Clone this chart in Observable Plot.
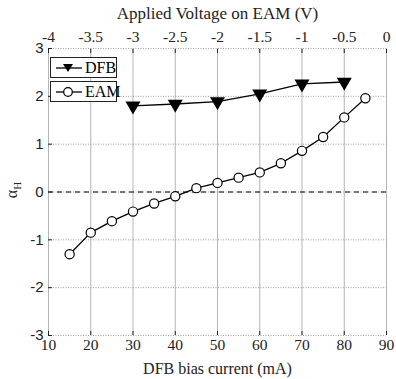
<!DOCTYPE html>
<html><head><meta charset="utf-8">
<script src="https://cdn.jsdelivr.net/npm/d3@7"></script>
<script src="https://cdn.jsdelivr.net/npm/@observablehq/plot@0.6"></script>
<style>
body{margin:0;background:#fff;}
#wrap{position:relative;width:396px;height:379px;font-family:"Liberation Serif",serif;}
#wrap svg text{font-family:"Liberation Serif",serif;}
#wrap svg g[aria-label="x-axis tick label"]{font-size:15.5px !important;}
#wrap svg g[aria-label="y-axis tick label"]{font-size:15px !important;}
#wrap svg g[aria-label="y-axis tick label"] text{font-family:"Liberation Sans",sans-serif !important;}
.leg{position:absolute;left:50px;width:67px;height:21px;border:1px solid #222;background:#fff;box-sizing:border-box;font-size:16px;}
.leg svg{position:absolute;left:0;top:0;}
.leg span{position:absolute;left:34px;top:1px;}
</style></head>
<body><div id="wrap"></div>
<script>
const dfbCurrent = [30, 40, 50, 60, 70, 80];
const dfbAlpha = [1.80, 1.84, 1.89, 2.05, 2.26, 2.30];
const eamCurrent = [15, 20, 25, 30, 35, 40, 45, 50, 55, 60, 65, 70, 75, 80, 85];
const eamAlpha = [-1.30, -0.85, -0.61, -0.41, -0.24, -0.09, 0.08, 0.19, 0.30, 0.41, 0.60, 0.86, 1.15, 1.56, 1.96];
const xTicks = [10, 20, 30, 40, 50, 60, 70, 80, 90];
const topTickLabels = ["-4", "-3.5", "-3", "-2.5", "-2", "-1.5", "-1", "-0.5", "0"];
const yTicks = [-3, -2, -1, 0, 1, 2, 3];

const dfb = dfbCurrent.map((x, i) => ({x, y: dfbAlpha[i]}));
const eam = eamCurrent.map((x, i) => ({x, y: eamAlpha[i]}));
const fmt = d => String(d).replace("\u2212", "-");

const chart = Plot.plot({
  width: 396, height: 379,
  marginLeft: 48, marginRight: 10, marginTop: 48, marginBottom: 44,
  style: {fontFamily: "Liberation Serif, serif", fontSize: "15px", color: "#222", background: "#fff"},
  x: {domain: [10, 90]},
  y: {domain: [-3, 3]},
  marks: [
    Plot.gridX(xTicks, {stroke: "#b5b5b5", strokeOpacity: 1, strokeWidth: 1}),
    Plot.gridY(yTicks, {stroke: "#888", strokeOpacity: 1, strokeDasharray: "1,1.5", strokeWidth: 0.8}),
    Plot.ruleY([0], {stroke: "#000", strokeDasharray: "5,4", strokeWidth: 1.2}),
    Plot.axisX(xTicks, {anchor: "bottom", tickSize: 0, tickPadding: 3, tickFormat: fmt, label: "DFB bias current (mA)", labelAnchor: "center", labelOffset: 38, labelArrow: "none"}),
    Plot.axisX(xTicks, {anchor: "bottom", tickSize: -4, text: null, stroke: "#222", label: null}),
    Plot.axisX(xTicks, {anchor: "top", tickSize: 0, tickPadding: 7, tickFormat: (d, i) => topTickLabels[i], label: "Applied Voltage on EAM (V)", labelAnchor: "center", labelOffset: 42, labelArrow: "none"}),
    Plot.axisX(xTicks, {anchor: "top", tickSize: -4, text: null, stroke: "#222", label: null}),
    Plot.axisY(yTicks, {anchor: "left", tickSize: 0, tickPadding: 5, tickFormat: fmt, label: null}),
    Plot.axisY(yTicks, {anchor: "left", tickSize: -4, text: null, stroke: "#222", label: null}),
    Plot.line(dfb, {x: "x", y: "y", stroke: "#000", strokeWidth: 1.3}),
    Plot.dot(dfb, {x: "x", y: "y", symbol: "triangle", rotate: 180, r: 4.6, fill: "#000", stroke: "#000"}),
    Plot.line(eam, {x: "x", y: "y", stroke: "#000", strokeWidth: 1.3}),
    Plot.dot(eam, {x: "x", y: "y", symbol: "circle", r: 4.6, fill: "#fff", stroke: "#000", strokeWidth: 1.2})
  ]
});
const wrap = document.getElementById("wrap");
wrap.appendChild(chart);

const axisLabels = chart.querySelectorAll('g[aria-label="x-axis label"]');
if (axisLabels[0]) axisLabels[0].style.fontSize = "16px";
if (axisLabels[1]) axisLabels[1].style.fontSize = "17px";

const ylab = document.createElementNS("http://www.w3.org/2000/svg", "text");
ylab.setAttribute("transform", "translate(17,190) rotate(-90)");
ylab.setAttribute("text-anchor", "middle");
ylab.setAttribute("font-size", "16");
ylab.setAttribute("fill", "#222");
ylab.innerHTML = '\u03b1<tspan font-size="11" dy="4">H</tspan>';
chart.appendChild(ylab);

const legendItems = [
  {label: "DFB", top: 57, sym: '<path d="M12,-4 L22,-4 L17,4 Z" fill="#000"/>'},
  {label: "EAM", top: 81, sym: '<circle cx="17" cy="0" r="4.3" fill="#fff" stroke="#000" stroke-width="1.2"/>'}
];
for (const it of legendItems) {
  const d = document.createElement("div");
  d.className = "leg";
  d.style.top = it.top + "px";
  d.innerHTML = `<svg width="36" height="20"><g transform="translate(0,10)"><line x1="5" x2="31" y1="0" y2="0" stroke="#000" stroke-width="1.3"/>${it.sym}</g></svg><span>${it.label}</span>`;
  wrap.appendChild(d);
}
</script></body></html>
